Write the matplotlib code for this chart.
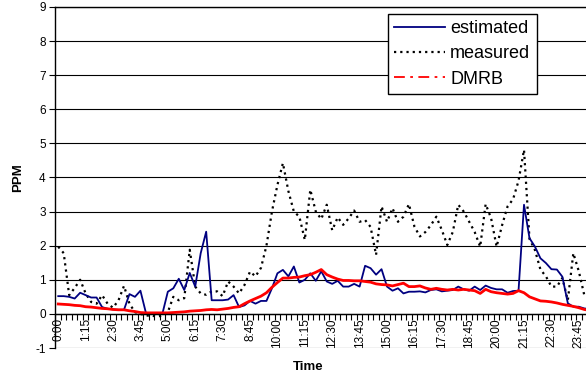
import matplotlib
matplotlib.use('Agg')
import matplotlib.pyplot as plt
from matplotlib.lines import Line2D

plt.rcParams['font.family'] = ['Liberation Sans', 'DejaVu Sans']

time_labels = ['0:00', '1:15', '2:30', '3:45', '5:00', '6:15', '7:30', '8:45',
               '10:00', '11:15', '12:30', '13:45', '15:00', '16:15', '17:30',
               '18:45', '20:00', '21:15', '22:30', '23:45']

estimated = [0.52, 0.52, 0.50, 0.45, 0.62, 0.55, 0.48, 0.48, 0.20, 0.15,
             0.13, 0.12, 0.12, 0.58, 0.50, 0.68, 0.03, 0.00, 0.00, 0.00,
             0.65, 0.75, 1.03, 0.70, 1.20, 0.80, 1.78, 2.41, 0.40, 0.40,
             0.40, 0.42, 0.55, 0.20, 0.25, 0.38, 0.30, 0.38, 0.38, 0.75,
             1.19, 1.29, 1.10, 1.39, 0.92, 1.00, 1.19, 0.97, 1.25, 0.95,
             0.88, 0.97, 0.80, 0.80, 0.88, 0.80, 1.41, 1.34, 1.15, 1.31,
             0.80, 0.68, 0.75, 0.60, 0.65, 0.65, 0.66, 0.63, 0.70, 0.72,
             0.66, 0.68, 0.70, 0.80, 0.72, 0.68, 0.80, 0.70, 0.83, 0.76,
             0.72, 0.72, 0.62, 0.67, 0.68, 3.20, 2.22, 1.97, 1.63, 1.49,
             1.31, 1.30, 1.09, 0.31, 0.21, 0.21, 0.16, 0.14]

measured = [1.97, 1.78, 0.55, 0.76, 1.00, 0.60, 0.35, 0.30, 0.55, 0.30,
            0.18, 0.40, 0.82, 0.30, 0.05, 0.00, -0.05, -0.05, -0.08, -0.05,
            0.05, 0.50, 0.40, 0.46, 1.88, 0.80, 0.60, 0.56, 0.66, 0.66,
            0.52, 0.95, 0.80, 0.60, 0.85, 1.24, 1.10, 1.35, 2.00, 3.00,
            3.78, 4.42, 3.60, 3.00, 2.85, 2.17, 3.64, 3.00, 2.78, 3.20,
            2.45, 2.83, 2.61, 2.80, 3.03, 2.70, 2.75, 2.55, 1.73, 3.15,
            2.70, 3.10, 2.70, 2.85, 3.22, 2.56, 2.27, 2.40, 2.60, 2.85,
            2.46, 2.02, 2.40, 3.20, 3.00, 2.70, 2.40, 1.97, 3.22, 2.80,
            1.97, 2.60, 3.15, 3.36, 3.90, 4.81, 2.20, 1.87, 1.30, 1.10,
            0.80, 0.80, 1.05, 0.40, 1.78, 1.25, 0.55, 0.45]

dmrb = [0.29, 0.28, 0.27, 0.25, 0.24, 0.21, 0.20, 0.18, 0.16, 0.15,
        0.13, 0.12, 0.12, 0.09, 0.07, 0.04, 0.03, 0.03, 0.03, 0.03,
        0.03, 0.04, 0.05, 0.06, 0.08, 0.09, 0.10, 0.12, 0.13, 0.12,
        0.14, 0.16, 0.19, 0.21, 0.30, 0.38, 0.45, 0.52, 0.62, 0.78,
        0.92, 1.05, 1.05, 1.07, 1.08, 1.12, 1.15, 1.22, 1.30, 1.15,
        1.08, 1.02, 0.98, 0.98, 0.97, 0.97, 0.95, 0.93, 0.88, 0.86,
        0.85, 0.82, 0.86, 0.90, 0.80, 0.80, 0.82, 0.76, 0.72, 0.75,
        0.72, 0.70, 0.72, 0.70, 0.72, 0.70, 0.68, 0.60, 0.72, 0.65,
        0.62, 0.60, 0.58, 0.60, 0.68, 0.62, 0.50, 0.44, 0.38, 0.37,
        0.35, 0.32, 0.28, 0.25, 0.22, 0.18, 0.13, 0.10]

y_ticks = list(range(-1, 10))

fig = plt.figure(figsize=(5.86, 3.85), dpi=100)
ax = fig.add_axes([0.0947, 0.0961, 0.9164, 0.886])

x = list(range(len(estimated)))
ax.plot(x, measured, color='black', lw=1.6, linestyle=(0, (1, 1.8)))
ax.plot(x, estimated, color='#000080', lw=1.3)
ax.plot(x, dmrb, color='red', lw=2)

ax.set_xlim(-0.5, len(estimated) - 0.5)
ax.set_ylim(-1, 9)
ax.set_yticks(y_ticks)
ax.set_yticklabels([str(v) for v in y_ticks], fontsize=8.5)
ax.yaxis.grid(True, color='black', lw=0.8)
ax.set_axisbelow(True)

ax.spines['bottom'].set_position(('data', 0))
ax.spines['right'].set_visible(False)
for s in ax.spines.values():
    s.set_linewidth(1.0)

ax.set_xticks(list(range(0, 5 * len(time_labels), 5)))
ax.set_xticklabels(time_labels, rotation=90, fontsize=8.5)
ax.tick_params(axis='x', which='major', length=0, pad=3)
ax.set_xticks([i - 0.5 for i in range(len(estimated) + 1)], minor=True)
ax.tick_params(axis='x', which='minor', length=4, direction='out', width=0.8)
ax.tick_params(axis='y', length=4, direction='out', pad=3)

fig.text(308 / 586, 1 - 367 / 385, 'Time', ha='center', va='center',
         fontweight='bold', fontsize=9.5)
fig.text(18 / 586, 1 - 178 / 385, 'PPM', ha='center', va='center',
         rotation=90, fontweight='bold', fontsize=9.5)

handles = [
    Line2D([], [], color='#000080', lw=1.3),
    Line2D([], [], color='black', lw=1.6, linestyle=(0, (1, 1.8))),
    Line2D([], [], color='red', lw=1.3, linestyle=(0, (6, 3, 1.5, 3))),
]
leg = fig.legend(handles, ['estimated', 'measured', 'DMRB'],
                 loc='upper left', bbox_to_anchor=(388 / 586, 1 - 14 / 385),
                 bbox_transform=fig.transFigure, borderaxespad=0,
                 fontsize=13, frameon=True, fancybox=False,
                 handlelength=2.8, handletextpad=0.3, borderpad=0.35,
                 labelspacing=0.45)
leg.get_frame().set_edgecolor('black')
leg.get_frame().set_linewidth(1.0)
leg.get_frame().set_alpha(1)

fig.savefig('out.png', dpi=100)
